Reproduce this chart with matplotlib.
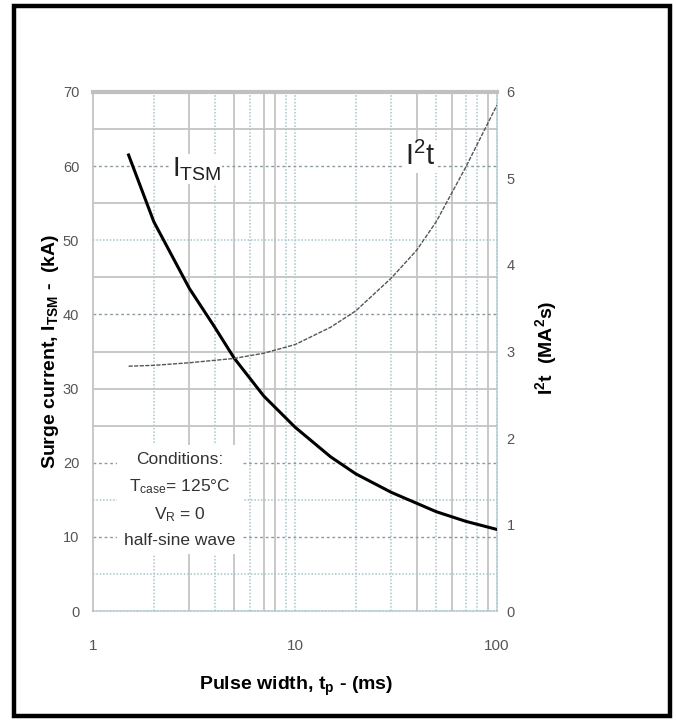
import numpy as np
import matplotlib.pyplot as plt
from matplotlib.patches import Rectangle

plt.rcParams['font.family'] = ['Liberation Sans', 'DejaVu Sans']

# surge current curve (kA) vs pulse width (ms)
tp_itsm = [1.5, 2, 3, 4, 5, 7, 10, 15, 20, 30, 50, 70, 100]
itsm = [61.5, 52.5, 43.5, 38.3, 34.1, 29.0, 24.8, 20.8, 18.5, 16.0, 13.4, 12.1, 11.0]

# I2t curve (MA^2 s) vs pulse width (ms)
tp_i2t = [1.5, 2, 3, 5, 7, 10, 15, 20, 30, 40, 50, 70, 100]
i2t = [2.83, 2.84, 2.87, 2.92, 2.98, 3.08, 3.28, 3.47, 3.85, 4.17, 4.5, 5.13, 5.85]

left_ticks = [0, 10, 20, 30, 40, 50, 60, 70]
right_ticks = [0, 1, 2, 3, 4, 5, 6]
x_ticks = [1, 10, 100]

# grid positions as drawn on the sheet
vgrid_solid = [3, 5, 7, 8, 40, 60, 90]
vgrid_dotted = [2, 4, 6, 9, 10, 20, 30, 50, 70, 80]
hgrid_solid = [25, 30, 35, 45, 55, 65]
hgrid_dashed = [10, 20, 40, 60]
hgrid_dotted = [5, 15, 50]

fig = plt.figure(figsize=(6.76, 7.22), dpi=100)
ax = fig.add_axes([0.1376, 0.1537, 0.5976, 0.7189])
ax.set_xscale('log')
ax.set_xlim(1, 100)
ax.set_ylim(0, 70)

grey = '#c4c4c4'
cyan = '#a8c4cc'
for x in vgrid_solid:
    ax.axvline(x, color=grey, lw=1.3, zorder=1)
for x in vgrid_dotted:
    ax.axvline(x, color=cyan, lw=1.1, ls=(0, (1, 1.2)), zorder=1)
for y in hgrid_solid:
    ax.axhline(y, color=grey, lw=1.3, zorder=1)
for y in hgrid_dashed:
    ax.axhline(y, color='#8a9aa0', lw=1.0, ls=(0, (2, 2)), zorder=1)
for y in hgrid_dotted:
    ax.axhline(y, color=cyan, lw=1.1, ls=(0, (1, 1.2)), zorder=1)

ax.spines['left'].set_color(grey)
ax.spines['left'].set_linewidth(1.3)
for s in ['right', 'bottom']:
    ax.spines[s].set_color(cyan)
    ax.spines[s].set_linewidth(1.1)
    ax.spines[s].set_linestyle((0, (1, 1.2)))
ax.spines['top'].set_color('#c0c0c0')
ax.spines['top'].set_linewidth(3)

ax.plot(tp_itsm, itsm, color='black', lw=2.2, zorder=4)

ax2 = ax.twinx()
ax2.set_ylim(0, 6)
ax2.plot(tp_i2t, i2t, color='#555555', lw=1.0, ls=(0, (3, 1)), zorder=4)
for s in ax2.spines.values():
    s.set_visible(False)

ax.set_xticks(x_ticks)
ax.set_xticklabels([str(v) for v in x_ticks])
ax.xaxis.set_minor_locator(plt.NullLocator())
ax.set_yticks(left_ticks)
ax2.set_yticks(right_ticks)
ax.tick_params(axis='x', length=0, pad=20, labelsize=11, labelcolor='#555555')
ax.tick_params(axis='y', length=0, pad=10, labelsize=10.5, labelcolor='#555555')
ax2.tick_params(axis='y', length=0, pad=7, labelsize=10.5, labelcolor='#555555')

# curve labels
ax.text(2.45, 59.6, r'$\mathregular{I_{TSM}}$', fontsize=20, color='#222222',
        ha='left', va='center', zorder=5,
        bbox=dict(facecolor='white', edgecolor='none', pad=1))
ax.text(35, 61.3, r'$\mathregular{I^2t}$', fontsize=21, color='#222222',
        ha='left', va='center', zorder=5,
        bbox=dict(facecolor='white', edgecolor='none', pad=1))

# conditions box
ax.text(2.7, 15.0,
        'Conditions:\n' + r'$\mathregular{T_{case}}$= 125°C' + '\n' +
        r'$\mathregular{V_R}$ = 0' + '\nhalf-sine wave',
        fontsize=12.5, color='#333333', ha='center', va='center',
        linespacing=1.7, zorder=5,
        bbox=dict(facecolor='white', edgecolor='none', pad=5))

fig.text(0.074, 0.513, r'Surge current, $\mathregular{I_{TSM}}$ -  (kA)',
         rotation=90, ha='center', va='center', fontsize=14, fontweight='bold')
fig.text(0.808, 0.518, r'I$\mathregular{^2}$t  (MA$\mathregular{^2}$s)', rotation=90,
         ha='center', va='center', fontsize=14, fontweight='bold')
fig.text(0.438, 0.049, r'Pulse width, $\mathregular{t_p}$ - (ms)',
         ha='center', va='center', fontsize=14, fontweight='bold')

# outer black frame
fig.patches.append(Rectangle((0.0207, 0.0083), 0.9705, 0.9834, transform=fig.transFigure,
                             fill=False, edgecolor='black', lw=3.2))

fig.savefig('out.png', dpi=100)
